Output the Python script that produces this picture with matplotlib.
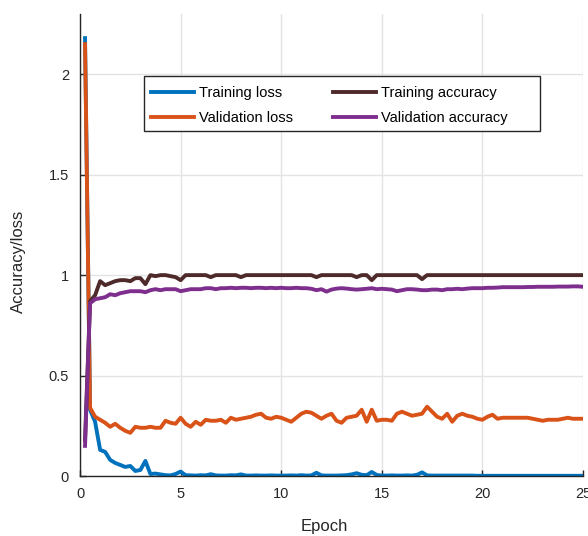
import matplotlib
matplotlib.use("Agg")
import matplotlib.pyplot as plt
from matplotlib.patches import Rectangle
import numpy as np

# epochs (4 points per epoch)
epochs = np.arange(1, 101) / 4

train_loss = [2.18, 0.33, 0.27, 0.13, 0.12, 0.08, 0.065, 0.055, 0.045, 0.05,
              0.025, 0.03, 0.075, 0.01, 0.012, 0.008, 0.004, 0.003, 0.01, 0.022,
              0.004, 0.003, 0.002, 0.004, 0.003, 0.009, 0.003, 0.002, 0.002, 0.004,
              0.003, 0.008, 0.002, 0.002, 0.003, 0.002, 0.002, 0.003, 0.002, 0.002,
              0.002, 0.003, 0.002, 0.004, 0.002, 0.003, 0.016, 0.003, 0.002, 0.002,
              0.002, 0.003, 0.004, 0.008, 0.014, 0.006, 0.004, 0.02, 0.005, 0.002,
              0.002, 0.003, 0.002, 0.002, 0.003, 0.002, 0.006, 0.018, 0.003, 0.002,
              0.002, 0.002, 0.002, 0.002, 0.002, 0.002, 0.002, 0.002, 0.001, 0.001,
              0.001, 0.001, 0.001, 0.001, 0.001, 0.001, 0.001, 0.001, 0.001, 0.001,
              0.001, 0.001, 0.001, 0.001, 0.001, 0.001, 0.001, 0.001, 0.001, 0.001]

val_loss = [2.15, 0.34, 0.295, 0.28, 0.265, 0.245, 0.26, 0.24, 0.225, 0.215,
            0.245, 0.24, 0.24, 0.245, 0.24, 0.24, 0.275, 0.265, 0.26, 0.29,
            0.26, 0.245, 0.27, 0.255, 0.28, 0.275, 0.275, 0.28, 0.265, 0.29,
            0.28, 0.285, 0.29, 0.295, 0.305, 0.31, 0.29, 0.285, 0.295, 0.29,
            0.28, 0.27, 0.29, 0.31, 0.32, 0.315, 0.30, 0.285, 0.30, 0.31,
            0.275, 0.265, 0.29, 0.295, 0.30, 0.33, 0.27, 0.33, 0.275, 0.28,
            0.28, 0.275, 0.31, 0.32, 0.31, 0.30, 0.305, 0.31, 0.345, 0.32,
            0.295, 0.285, 0.31, 0.27, 0.30, 0.31, 0.30, 0.295, 0.285, 0.28,
            0.295, 0.305, 0.285, 0.29, 0.29, 0.29, 0.29, 0.29, 0.29, 0.285,
            0.28, 0.275, 0.28, 0.28, 0.28, 0.285, 0.29, 0.285, 0.285, 0.285]

train_acc = [0.18, 0.87, 0.90, 0.97, 0.95, 0.96, 0.97, 0.975, 0.975, 0.97,
             0.985, 0.985, 0.955, 1.0, 0.995, 1.0, 1.0, 0.995, 0.99, 0.975,
             1.0, 1.0, 1.0, 1.0, 1.0, 0.99, 1.0, 1.0, 1.0, 1.0,
             1.0, 0.99, 1.0, 1.0, 1.0, 1.0, 1.0, 1.0, 1.0, 1.0,
             1.0, 1.0, 1.0, 1.0, 1.0, 1.0, 0.99, 1.0, 1.0, 1.0,
             1.0, 1.0, 1.0, 1.0, 0.99, 1.0, 1.0, 0.975, 1.0, 1.0,
             1.0, 1.0, 1.0, 1.0, 1.0, 1.0, 1.0, 0.98, 1.0, 1.0,
             1.0, 1.0, 1.0, 1.0, 1.0, 1.0, 1.0, 1.0, 1.0, 1.0,
             1.0, 1.0, 1.0, 1.0, 1.0, 1.0, 1.0, 1.0, 1.0, 1.0,
             1.0, 1.0, 1.0, 1.0, 1.0, 1.0, 1.0, 1.0, 1.0, 1.0]

val_acc = [0.15, 0.86, 0.88, 0.885, 0.89, 0.905, 0.90, 0.91, 0.915, 0.92,
           0.92, 0.92, 0.915, 0.925, 0.93, 0.925, 0.93, 0.93, 0.93, 0.92,
           0.925, 0.93, 0.93, 0.93, 0.935, 0.935, 0.93, 0.935, 0.935, 0.937,
           0.935, 0.937, 0.937, 0.935, 0.937, 0.937, 0.935, 0.937, 0.935, 0.937,
           0.935, 0.935, 0.937, 0.935, 0.935, 0.932, 0.925, 0.93, 0.918, 0.928,
           0.933, 0.935, 0.933, 0.93, 0.928, 0.93, 0.932, 0.935, 0.93, 0.932,
           0.93, 0.928, 0.92, 0.925, 0.93, 0.93, 0.928, 0.925, 0.925, 0.928,
           0.928, 0.925, 0.93, 0.93, 0.932, 0.93, 0.933, 0.935, 0.935, 0.935,
           0.937, 0.937, 0.938, 0.94, 0.94, 0.94, 0.94, 0.94, 0.941, 0.941,
           0.942, 0.942, 0.942, 0.942, 0.943, 0.943, 0.943, 0.944, 0.944, 0.942]

plt.rcParams['font.family'] = ['Liberation Sans', 'DejaVu Sans']

W, H = 588, 536
fig = plt.figure(figsize=(W / 100, H / 100), dpi=100)
# axes box in pixels: left 80, right 583, top 14, bottom 476
ax = fig.add_axes([80 / W, (H - 476) / H, (583 - 80) / W, (476 - 14) / H])

lw = 2.8
ax.plot(epochs, train_loss, color='#0072BD', lw=lw, label='Training loss')
ax.plot(epochs, val_loss, color='#D95319', lw=lw, label='Validation loss')
ax.plot(epochs, train_acc, color='#4E2A2A', lw=lw, label='Training accuracy')
ax.plot(epochs, val_acc, color='#7E2F8E', lw=lw, label='Validation accuracy')

ax.set_xlim(0, 25)
ax.set_ylim(0, 2.3)
ax.set_xticks([0, 5, 10, 15, 20, 25])
ax.set_yticks([0, 0.5, 1, 1.5, 2])
ax.set_yticklabels(['0', '0.5', '1', '1.5', '2'])

ax.grid(True, color='#e3e3e3', lw=1)
ax.set_axisbelow(True)
for s in ['top', 'right']:
    ax.spines[s].set_visible(False)
for s in ['left', 'bottom']:
    ax.spines[s].set_color('#262626')
    ax.spines[s].set_linewidth(1)
ax.tick_params(direction='in', length=4, width=1, colors='#262626',
               labelsize=10.5, pad=8)

ax.set_xlabel('Epoch', fontsize=12, color='#262626')
ax.set_ylabel('Accuracy/loss', fontsize=12, color='#262626')
ax.xaxis.set_label_coords((324 - 80) / 503, -(519 - 476) / 462)
ax.yaxis.set_label_coords(-(80 - 26) / 503, (476 - 261) / 462)

# MATLAB-style legend box, wider than the entries
box = Rectangle((144 / W, (H - 131) / H), (540 - 144) / W, (131 - 76) / H,
                transform=fig.transFigure, facecolor='white',
                edgecolor='#262626', lw=1, zorder=4, clip_on=False)
ax.add_patch(box)

leg = ax.legend(ncol=2, loc='upper left',
                bbox_to_anchor=((144 - 80) / 503, (476 - 79) / 462),
                borderaxespad=0, fontsize=10.5, handlelength=2.95,
                handletextpad=0.35, columnspacing=2.7, labelspacing=0.75,
                borderpad=0.5, frameon=False)
leg.set_zorder(5)

plt.savefig('out.png', dpi=100)
plt.close()
